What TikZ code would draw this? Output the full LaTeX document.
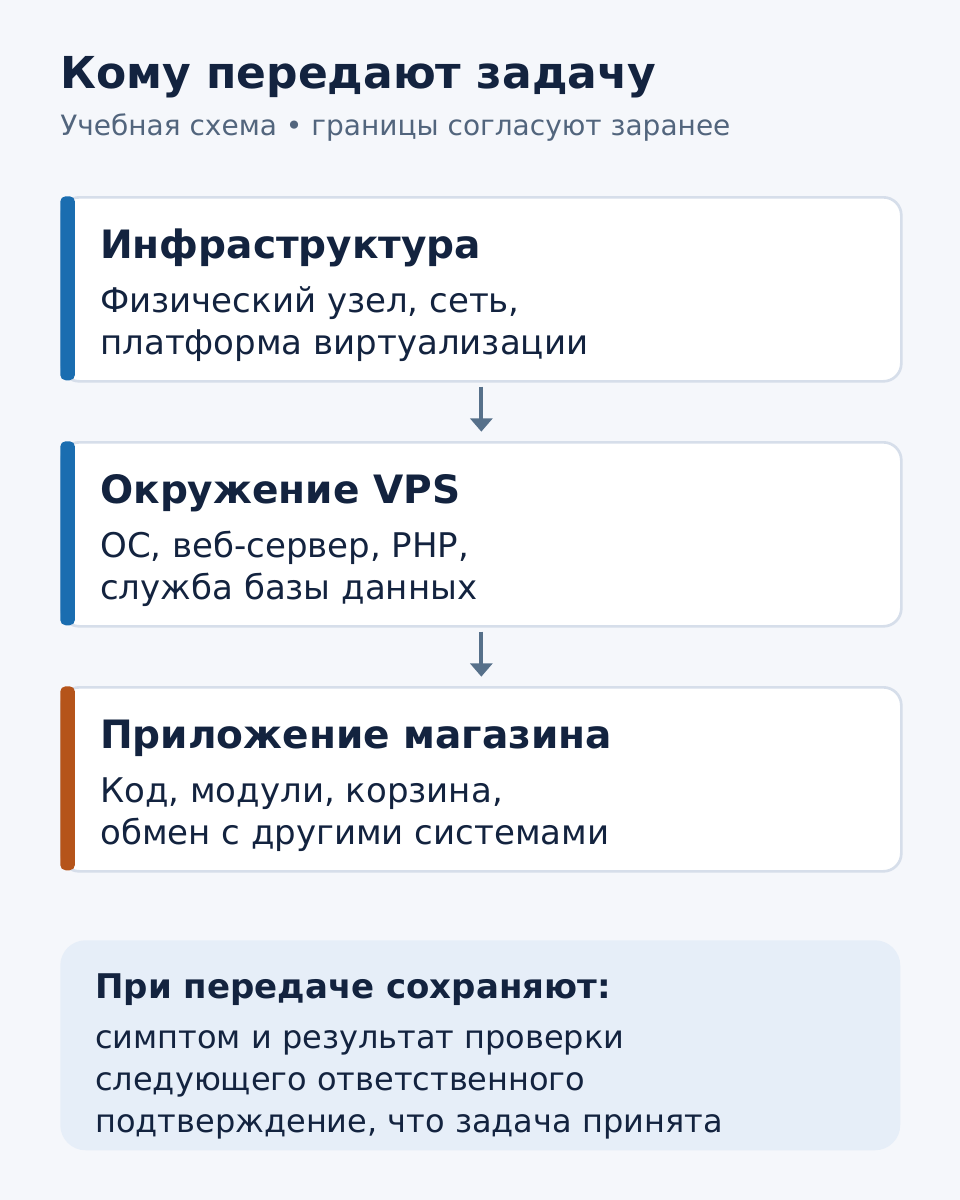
\documentclass[tikz,border=0pt]{standalone}
\usepackage{fontspec}
\setmainfont{DejaVu Sans}
\usetikzlibrary{arrows.meta,positioning}

\definecolor{pagebg}{HTML}{F5F7FB}
\definecolor{ink}{HTML}{13233F}
\definecolor{subink}{HTML}{52657D}
\definecolor{cardline}{HTML}{D6DEEA}
\definecolor{accblue}{HTML}{1A6DB0}
\definecolor{accorange}{HTML}{B5541A}
\definecolor{arrowgray}{HTML}{56708A}
\definecolor{notebg}{HTML}{E6EEF8}

\tikzset{
	card/.style={draw=cardline,line width=2pt,fill=white,rounded corners=13.5pt,
		minimum width=630pt,minimum height=138pt,inner sep=0pt,anchor=north west},
	accbar/.style={rounded corners=4pt,minimum width=11pt,minimum height=138pt,
		inner sep=0pt,anchor=north west},
	title/.style={anchor=base west,inner sep=0pt,text=ink,font=\bfseries\fontsize{33}{38}\selectfont},
	subtitle/.style={anchor=base west,inner sep=0pt,text=subink,font=\fontsize{21}{26}\selectfont},
	head/.style={anchor=base west,inner sep=0pt,text=ink,font=\bfseries\fontsize{29.3}{34}\selectfont},
	body/.style={anchor=base west,inner sep=0pt,text=ink,font=\fontsize{25.5}{31}\selectfont},
	notebody/.style={anchor=base west,inner sep=0pt,text=ink,font=\fontsize{24}{30}\selectfont},
	flow/.style={draw=arrowgray,line width=3pt,-{Triangle[width=16.5pt,length=10pt]}}
}

\begin{document}
\begin{tikzpicture}[x=0.75pt,y=-0.75pt]
	\fill[pagebg] (0,0) rectangle (960,1200);
	\useasboundingbox (0,0) rectangle (960,1200);

	\node[title] (title) at (60,88) {Кому передают задачу};
	\node[subtitle] (subtitle) at (60,135) {Учебная схема • границы согласуют заранее};

	% cards
	\node[card] (infra) at (60,196) {};
	\node[accbar,fill=accblue] (infrabar) at (60,196) {};
	\node[head] (infrahead) at (100,258) {Инфраструктура};
	\node[body] (infraone) at (100,312) {Физический узел, сеть,};
	\node[body] (infratwo) at (100,354) {платформа виртуализации};

	\node[card] (vps) at (60,441) {};
	\node[accbar,fill=accblue] (vpsbar) at (60,441) {};
	\node[head] (vpshead) at (100,503) {Окружение VPS};
	\node[body] (vpsone) at (100,557) {ОС, веб-сервер, PHP,};
	\node[body] (vpstwo) at (100,599) {служба базы данных};

	\node[card] (shop) at (60,686) {};
	\node[accbar,fill=accorange] (shopbar) at (60,686) {};
	\node[head] (shophead) at (100,748) {Приложение магазина};
	\node[body] (shopone) at (100,802) {Код, модули, корзина,};
	\node[body] (shoptwo) at (100,844) {обмен с другими системами};

	% arrows
	\draw[flow] ([yshift=-3pt]infra.south) -- ([yshift=7pt]vps.north);
	\draw[flow] ([yshift=-3pt]vps.south) -- ([yshift=7pt]shop.north);

	% note
	\node[fill=notebg,rounded corners=19pt,minimum width=630pt,minimum height=157.5pt,
		inner sep=0pt,anchor=north west] (note) at (60,940) {};
	\node[head,font=\bfseries\fontsize{25.5}{31}\selectfont] (notehead) at (95,998) {При передаче сохраняют:};
	\node[notebody] (noteone) at (95,1048) {симптом и результат проверки};
	\node[notebody] (notetwo) at (95,1090) {следующего ответственного};
	\node[notebody] (notethree) at (95,1132) {подтверждение, что задача принята};
\end{tikzpicture}
\end{document}
